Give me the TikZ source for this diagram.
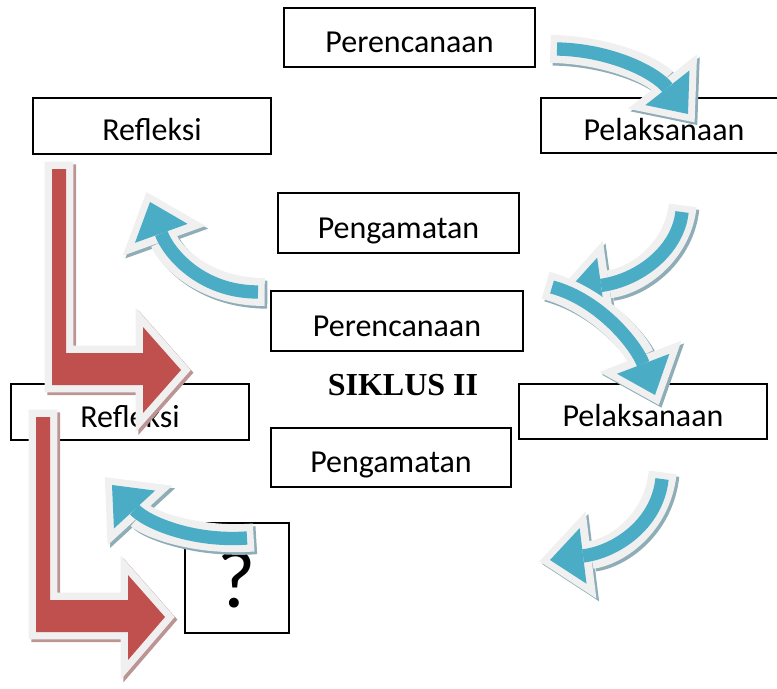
\documentclass[tikz,border=0pt]{standalone}
\usepackage{fontspec}
\setmainfont{Carlito}
\newfontfamily\siklusfont{Liberation Serif}
\usepackage{xcolor}
\usepackage{tikz}
\usetikzlibrary{arrows.meta}
\definecolor{bluebody}{HTML}{4BACC6}
\definecolor{redbody}{HTML}{C0504D}
\definecolor{rimgray}{HTML}{F0F0F0}
\definecolor{blueshade}{HTML}{8EADB7}
\definecolor{redshade}{HTML}{BC9494}
\newcommand{\cycarrow}[4]{%
  \draw[arrshade] (#1) .. controls (#2) and (#3) .. (#4);
  \draw[arrrim] (#1) .. controls (#2) and (#3) .. (#4);
  \draw[arrbody] (#1) .. controls (#2) and (#3) .. (#4);}
\newcommand{\bentarrow}[1]{%
  \filldraw[bentshade] #1;
  \filldraw[bentrim] #1;
  \fill[bentbody] #1;}

\begin{document}
\begin{tikzpicture}[
    x=0.75pt,y=-0.75pt,
    font=\fontsize{24}{29}\selectfont,
    box/.style={draw,line width=1.1pt,fill=white,inner sep=0pt,align=center,text height=22.5pt,text depth=0pt},
    arrbody/.style={draw=bluebody,line width=10pt,-{Triangle[length=25pt,width=42pt,line width=0pt]}},
    arrrim/.style={draw=rimgray,line width=21pt,shorten <=-5pt,shorten >=-8pt,-{Triangle[length=39pt,width=66pt,line width=0pt]}},
    arrshade/.style={arrrim,draw=blueshade,transform canvas={shift={(2pt,-2pt)}}},
    bentbody/.style={fill=redbody},
    bentrim/.style={fill=rimgray,draw=rimgray,line width=11pt},
    bentshade/.style={bentrim,fill=redshade,draw=redshade,transform canvas={shift={(2pt,-2pt)}}}
  ]
    \useasboundingbox (0,0) rectangle (777,688);

    \node[box,minimum width=188.25pt,minimum height=44.25pt] (plan1) at (409.5,37.5) {Perencanaan};
    \node[box,minimum width=184.5pt,minimum height=41.25pt] (act1) at (664,125.5) {Pelaksanaan};
    \node[box,minimum width=178.5pt,minimum height=42pt] (refl1) at (152,126) {Refleksi};
    \node[box,minimum width=180.75pt,minimum height=45pt] (obs1) at (398.5,223) {Pengamatan};
    \node[box,minimum width=189pt,minimum height=45pt] (plan2) at (397,321) {Perencanaan};
    \node[box,minimum width=178.5pt,minimum height=42pt] (refl2) at (130,412) {Refleksi};
    \node[box,minimum width=186pt,minimum height=41.25pt] (act2) at (643,411.5) {Pelaksanaan};
    \node[box,minimum width=180pt,minimum height=44.25pt] (obs2) at (391,457.5) {Pengamatan};
    \node[box,minimum width=78pt,minimum height=82.5pt,text height=43.5pt,font=\fontsize{62}{66}\selectfont] (next) at (237,578) {?};
    \node[font=\fontsize{24}{29}\siklusfont\bfseries] (cycle2) at (403,385) {SIKLUS II};

    \coordinate (s1) at (557,49);  \coordinate (e1) at (688,114);
    \coordinate (s2) at (682,212); \coordinate (e2) at (568,290);
    \coordinate (s3) at (552,287); \coordinate (e3) at (655,395);
    \coordinate (s4) at (662,479); \coordinate (e4) at (550,560);
    \coordinate (s5) at (258,292); \coordinate (e5) at (150,202);
    \coordinate (s6) at (247,538); \coordinate (e6) at (112,485);

    \cycarrow{s1}{610,50}{655,72}{e1}
    \cycarrow{s2}{678,250}{640,280}{e2}
    \cycarrow{s3}{600,300}{636,345}{e3}
    \cycarrow{s4}{657,525}{615,552}{e4}
    \cycarrow{s5}{200,292}{168,252}{e5}
    \cycarrow{s6}{192,542}{146,522}{e6}

    \bentarrow{(52,169) -- (66,169) -- (66,353) -- (143,353) -- (143,327) -- (181,370) -- (143,413) -- (143,385) -- (52,385) -- cycle}
    \bentarrow{(36,417) -- (50,417) -- (50,600) -- (128,600) -- (128,575) -- (165,617) -- (128,660) -- (128,632) -- (36,632) -- cycle}
  \end{tikzpicture}
\end{document}
